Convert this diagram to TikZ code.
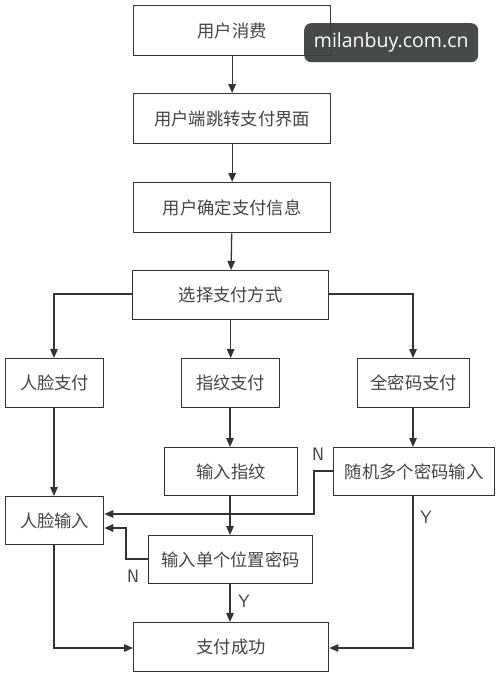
\documentclass[tikz,border=0pt]{standalone}
\usepackage{fontspec}
\setmainfont{Noto Sans CJK SC}
\newfontfamily\wmfont{Open Sans}
\usetikzlibrary{arrows.meta}
\definecolor{linec}{HTML}{333333}
\definecolor{textc}{HTML}{444444}
\definecolor{wmbg}{HTML}{3A3D3D}
\tikzset{
  box/.style={draw=linec, line width=1.3pt, text=textc, inner sep=0pt, anchor=north west,
    font=\fontsize{17.3}{20}\selectfont},
  conn/.style={draw=linec, line width=1.3pt, -{Triangle[length=9pt,width=7.5pt]}},
  lbl/.style={text=textc, font=\fontsize{18}{20}\selectfont\sffamily, inner sep=0pt}
}
\begin{document}
\begin{tikzpicture}[x=1pt,y=-1pt]
\useasboundingbox[fill=white] (0,0) rectangle (500,677);
\node[box, minimum width=197pt, minimum height=50pt] (a) at (133,5) {用户消费};
\node[box, minimum width=197pt, minimum height=50pt] (b) at (133,93) {用户端跳转支付界面};
\node[box, minimum width=197pt, minimum height=50pt] (c) at (133,182) {用户确定支付信息};
\node[box, minimum width=196pt, minimum height=49pt] (d) at (132,270) {选择支付方式};
\node[box, minimum width=98pt, minimum height=49pt] (e) at (5,358) {人脸支付};
\node[box, minimum width=98pt, minimum height=49pt] (f) at (181,358) {指纹支付};
\node[box, minimum width=112pt, minimum height=49pt] (g) at (357,358) {全密码支付};
\node[box, minimum width=133pt, minimum height=48pt] (h) at (164,447) {输入指纹};
\node[box, minimum width=161pt, minimum height=48pt] (i) at (333,447) {随机多个密码输入};
\node[box, minimum width=98pt, minimum height=48pt] (j) at (5,496) {人脸输入};
\node[box, minimum width=164pt, minimum height=48pt] (k) at (148,535) {输入单个位置密码};
\node[box, minimum width=195pt, minimum height=49pt] (l) at (133,622) {支付成功};
\coordinate (dl) at (54,294);
\coordinate (dr) at (413,294);
\coordinate (i1) at (314,471);
\coordinate (i2) at (314,514);
\coordinate (k1) at (126,559);
\coordinate (k2) at (126,528);
\coordinate (jb) at (54,648);
\coordinate (ib) at (413,648);
\draw[conn] (a) -- (b);
\draw[conn] (b) -- (c);
\draw[conn] (c) -- (d);
\draw[conn] (d.west |- dl) -- (dl) -- (e.north -| dl);
\draw[conn] (d) -- (f);
\draw[conn] (d.east |- dr) -- (dr) -- (g.north -| dr);
\draw[conn] (e.south -| dl) -- (j.north -| dl);
\draw[conn] (f.south -| 230,0) -- (h.north -| 230,0);
\draw[conn] (g.south -| dr) -- (i.north -| dr);
\draw[conn] (h.south -| 230,0) -- (k.north -| 230,0);
\draw[conn] (i.west |- i1) -- (i1) -- (i2) -- (j.east |- i2);
\draw[conn] (k.west |- k1) -- (k1) -- (k2) -- (j.east |- k2);
\draw[conn] (k.south -| 230,0) -- (l.north -| 230,0);
\draw[conn] (i.south -| ib) -- (ib) -- (l.east |- ib);
\draw[conn] (j.south -| jb) -- (jb) -- (l.west |- jb);
\node[lbl] (n1) at (318,454) {N};
\node[lbl] (n2) at (133,576) {N};
\node[lbl] (y1) at (244,601) {Y};
\node[lbl] (y2) at (426,517) {Y};
\node[fill=wmbg, fill opacity=0.93, text opacity=1, text=white, rounded corners=7pt,
  minimum width=174pt, minimum height=39pt, inner sep=0pt, anchor=north west,
  font=\wmfont\fontsize{19.5}{22}\selectfont] (wm) at (304,23) {milanbuy.com.cn};
\end{tikzpicture}
\end{document}
